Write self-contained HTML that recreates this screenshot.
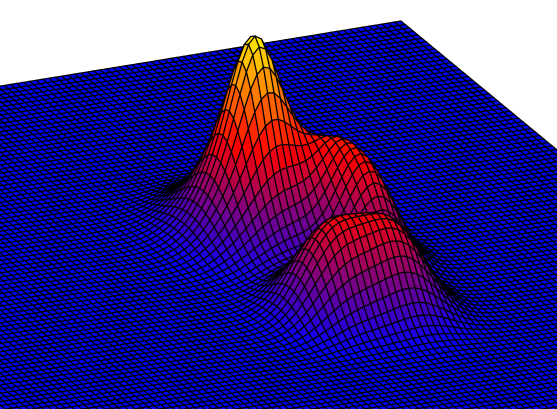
<!DOCTYPE html>
<html><head><meta charset="utf-8"><style>
html,body{margin:0;padding:0;background:#fff;overflow:hidden;width:557px;height:409px}
svg{display:block;overflow:hidden}
</style></head><body>
<svg id="chart" width="557" height="409" viewBox="0 0 557 409" xmlns="http://www.w3.org/2000/svg">
<rect x="0" y="0" width="557" height="409" fill="#ffffff"/>
<g id="mesh"></g>
</svg>
<script>
const peakU = [0.529, 0.529, 0.434, 0.425, 0.560, 0.470];
const peakV = [0.458, 0.458, 0.516, 0.580, 0.680, 0.695];
const peakHeight = [0.35, 0.62, 0.33, 0.36, 0.40, 0.40];
const peakWidth = [0.03, 0.06, 0.038, 0.038, 0.045, 0.045];

const NU = 116, NV = 102, STEP = 0.01;
const O = [401, 21], U = [-640, 104], V = [420, 347], ZS = 205;
function zAt(u, v) {
  let z = 0;
  for (let k = 0; k < peakU.length; k++) {
    const du = u - peakU[k], dv = v - peakV[k];
    z += peakHeight[k] * Math.exp(-(du * du + dv * dv) / (2 * peakWidth[k] * peakWidth[k]));
  }
  return z;
}
function proj(u, v, z) {
  return [O[0] + u * U[0] + v * V[0], O[1] + u * U[1] + v * V[1] - z * ZS];
}
function color(t) {
  t = Math.max(0, Math.min(1, t));
  let r, g, b;
  if (t < 0.5) { r = 2 * t; g = 0; b = 1 - 2 * t; }
  else { r = 1; g = 2 * (t - 0.5); b = 0; }
  return 'rgb(' + Math.round(r * 255) + ',' + Math.round(g * 255) + ',' + Math.round(b * 255) + ')';
}
const Z = [];
for (let i = 0; i <= NU; i++) { Z.push([]); for (let j = 0; j <= NV; j++) Z[i].push(zAt(i * STEP, j * STEP)); }
const cells = [];
for (let i = 0; i < NU; i++) for (let j = 0; j < NV; j++) {
  cells.push([i, j, 104 * (i + 0.5) + 347 * (j + 0.5)]);
}
cells.sort((a, b) => a[2] - b[2]);
const g = document.getElementById('mesh');
const NS = 'http://www.w3.org/2000/svg';
for (const c of cells) {
  const i = c[0], j = c[1];
  const pts = [[i, j], [i + 1, j], [i + 1, j + 1], [i, j + 1]].map(p => proj(p[0] * STEP, p[1] * STEP, Z[p[0]][p[1]]));
  const zc = (Z[i][j] + Z[i + 1][j] + Z[i + 1][j + 1] + Z[i][j + 1]) / 4;
  const poly = document.createElementNS(NS, 'polygon');
  
  
  poly.setAttribute('points', pts.map(p => p[0].toFixed(1) + ',' + p[1].toFixed(1)).join(' '));
  poly.setAttribute('fill', color(zc));
  poly.setAttribute('stroke', '#000');
  poly.setAttribute('stroke-width', '1.2');
  g.appendChild(poly);
}
</script>
</body></html>
